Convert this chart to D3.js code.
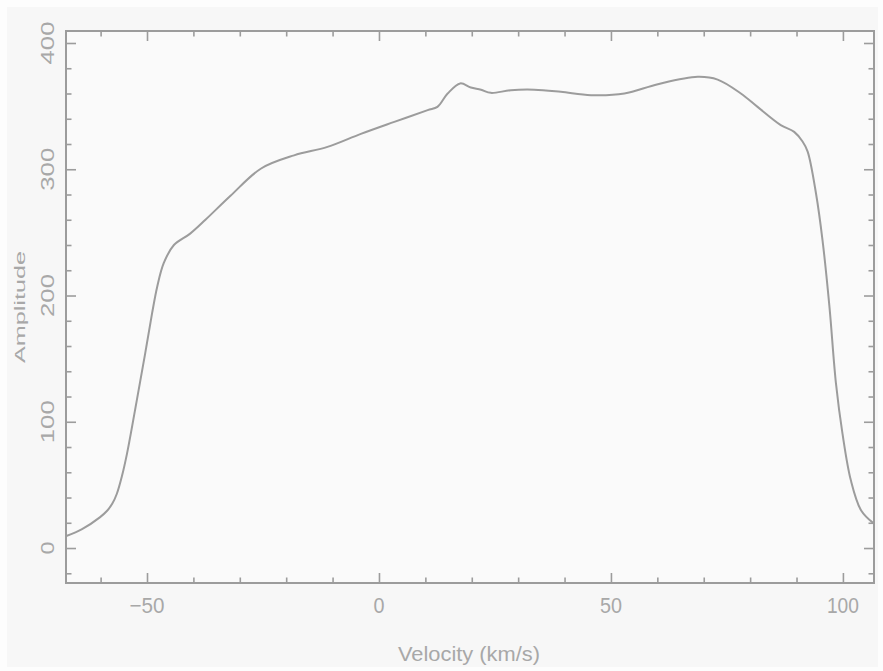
<!DOCTYPE html>
<html>
<head>
<meta charset="utf-8">
<script src="https://cdn.jsdelivr.net/npm/d3@7"></script>
<style>
  html, body { margin: 0; padding: 0; background: #fdfdfd; }
  svg { display: block; }
  text { font-family: "Liberation Sans", Arial, sans-serif; fill: #a8a8a8; }
</style>
</head>
<body>
<svg id="chart" width="883" height="671"></svg>
<script>
// ---- data ----
const velocity = [-67.4, -64, -60.1, -58.6, -57.5, -56.5, -55.4, -54.3, -52.2, -50.4, -48.9, -47.8, -46.4, -44.2, -40.7, -37.4, -32, -25.4, -18.3, -11.1, -3.9, 3.3, 10.5, 12.6, 14.8, 17.5, 19.8, 22, 24.1, 28.4, 33.5, 39.2, 45.7, 52.9, 60.1, 68.7, 73, 78, 81.6, 86.6, 89.5, 91.3, 92.4, 94.2, 95.6, 97.1, 98.5, 99.9, 101.7, 103.9, 106.6];
const amplitude = [9.5, 15, 24.5, 29.5, 35, 43, 57, 75, 117, 154, 186, 207, 225.6, 240, 249, 260, 279, 300.6, 311, 317.7, 328, 337.5, 346.8, 349.4, 360, 368, 364.8, 363, 360.5, 362.6, 363, 361.3, 358.7, 360, 367.4, 373.2, 371, 360, 349.4, 335, 329.6, 322, 314, 280.8, 243.9, 191, 130.4, 90.8, 53.8, 30, 19.6];
const xMajorTicks = [-50, 0, 50, 100];
const xMinorTicks = [-60, -40, -30, -20, -10, 10, 20, 30, 40, 60, 70, 80, 90];
const yMajorTicks = [0, 100, 200, 300, 400];
const yMinorTicks = [-20, 20, 40, 60, 80, 120, 140, 160, 180, 220, 240, 260, 280, 320, 340, 360, 380];
const xTickLabels = ["\u221250", "0", "50", "100"];
const yTickLabels = ["0", "100", "200", "300", "400"];
const xTitle = "Velocity (km/s)";
const yTitle = "Amplitude";

// ---- layout ----
const L = 66, R = 874, T = 31, B = 583;
const xDomain = [-67.46, 106.7];
const yDomain = [-27.7, 409.5];
const grey = "#9c9c9c";

const svg = d3.select("#chart");
svg.append("rect").attr("x", 7).attr("y", 7).attr("width", 871).attr("height", 660).attr("fill", "#f7f7f7");
svg.append("rect").attr("x", L).attr("y", T).attr("width", R - L).attr("height", B - T).attr("fill", "#fafafa");

const x = d3.scaleLinear().domain(xDomain).range([L, R]);
const y = d3.scaleLinear().domain(yDomain).range([B, T]);

function styleAxis(g) {
  g.select(".domain").remove();
  g.selectAll(".tick line").attr("stroke", grey).attr("stroke-width", 1.6);
  g.selectAll(".tick text").remove();
}

// bottom & top
[[d3.axisBottom, B], [d3.axisTop, T]].forEach(([fn, pos]) => {
  svg.append("g").attr("transform", `translate(0,${pos})`)
    .call(fn(x).tickValues(xMajorTicks).tickSize(-10).tickFormat("")).call(styleAxis);
  svg.append("g").attr("transform", `translate(0,${pos})`)
    .call(fn(x).tickValues(xMinorTicks).tickSize(-5.5).tickFormat("")).call(styleAxis);
});
// left & right
[[d3.axisLeft, L], [d3.axisRight, R]].forEach(([fn, pos]) => {
  svg.append("g").attr("transform", `translate(${pos},0)`)
    .call(fn(y).tickValues(yMajorTicks).tickSize(-10).tickFormat("")).call(styleAxis);
  svg.append("g").attr("transform", `translate(${pos},0)`)
    .call(fn(y).tickValues(yMinorTicks).tickSize(-5.5).tickFormat("")).call(styleAxis);
});

// frame
svg.append("rect").attr("x", L).attr("y", T).attr("width", R - L).attr("height", B - T)
  .attr("fill", "none").attr("stroke", grey).attr("stroke-width", 2);

// curve
const line = d3.line().x(d => x(d[0])).y(d => y(d[1])).curve(d3.curveCatmullRom.alpha(0.5));
const pts = velocity.map((v, i) => [v, amplitude[i]]);
svg.append("defs").append("clipPath").attr("id", "clip")
  .append("rect").attr("x", L).attr("y", T).attr("width", R - L).attr("height", B - T);
svg.append("path").datum(pts).attr("d", line).attr("clip-path", "url(#clip)")
  .attr("fill", "none").attr("stroke", "#9c9c9c").attr("stroke-width", 2);

// x tick labels
const xLen = [35, 11, 22, 32];
xMajorTicks.forEach((v, i) => {
  svg.append("text").attr("x", x(v)).attr("y", 613)
    .attr("text-anchor", "middle").attr("font-size", 22)
    .attr("textLength", xLen[i]).attr("lengthAdjust", "spacingAndGlyphs")
    .text(xTickLabels[i]);
});
// y tick labels (rotated)
const yLen = [13, 43, 43, 43, 43];
yMajorTicks.forEach((v, i) => {
  svg.append("text").attr("transform", `translate(54,${y(v)}) rotate(-90)`)
    .attr("text-anchor", "middle").attr("font-size", 19)
    .attr("textLength", yLen[i]).attr("lengthAdjust", "spacingAndGlyphs")
    .text(yTickLabels[i]);
});

// titles
svg.append("text").attr("x", 469).attr("y", 661).attr("text-anchor", "middle")
  .attr("font-size", 21).attr("textLength", 142).attr("lengthAdjust", "spacingAndGlyphs")
  .text(xTitle);
svg.append("text").attr("transform", "translate(25,307) rotate(-90)").attr("text-anchor", "middle")
  .attr("font-size", 15.5).attr("textLength", 112).attr("lengthAdjust", "spacingAndGlyphs")
  .text(yTitle);
</script>
</body>
</html>
